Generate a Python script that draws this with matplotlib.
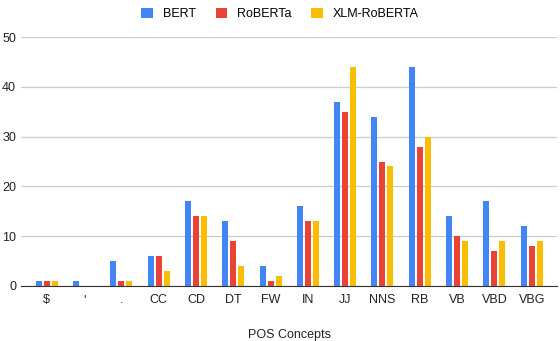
import matplotlib.pyplot as plt
import numpy as np

# POS-Konzepte und Werte je Modell
categories = ["$", "'", ".", "CC", "CD", "DT", "FW", "IN", "JJ", "NNS", "RB", "VB", "VBD", "VBG"]
bert = [1, 1, 5, 6, 17, 13, 4, 16, 37, 34, 44, 14, 17, 12]
roberta = [1, 0, 1, 6, 14, 9, 1, 13, 35, 25, 28, 10, 7, 8]
xlm_roberta = [1, 0, 1, 3, 14, 4, 2, 13, 44, 24, 30, 9, 9, 9]

series = [("BERT", bert, "#4285F4"),
          ("RoBERTa", roberta, "#EA4335"),
          ("XLM-RoBERTA", xlm_roberta, "#FBBC04")]

plt.rcParams["font.family"] = ["Liberation Sans", "DejaVu Sans"]

fig = plt.figure(figsize=(5.6, 3.41), dpi=100)
ax = fig.add_axes([21 / 560, 1 - 286 / 341, 536 / 560, 249 / 341])

x = np.arange(len(categories))
width = 0.16
step = 0.215
for i, (name, vals, color) in enumerate(series):
    ax.bar(x + (i - 1) * step, vals, width, color=color, label=name, zorder=3)

ax.set_xlim(-0.69, 13.68)
ax.set_ylim(0, 50)
ax.set_yticks(range(0, 51, 10))
ax.yaxis.grid(True, color="#cccccc", linewidth=0.9, zorder=0)
ax.set_xticks(x)
ax.set_xticklabels(categories)
ax.tick_params(axis="both", length=0, labelsize=9, colors="#222222")
ax.tick_params(axis="x", pad=6)
for side in ["top", "right", "left"]:
    ax.spines[side].set_visible(False)
ax.spines["bottom"].set_color("#333333")
ax.spines["bottom"].set_zorder(4)

ax.set_xlabel("POS Concepts", fontsize=9, color="#222222", labelpad=16)

fig.legend(loc="upper center", bbox_to_anchor=(0.5, 1.01), ncol=3, frameon=False,
           fontsize=9, handlelength=0.9, handleheight=0.9, handletextpad=0.8,
           columnspacing=1.6)

fig.savefig("out.png", dpi=100)
